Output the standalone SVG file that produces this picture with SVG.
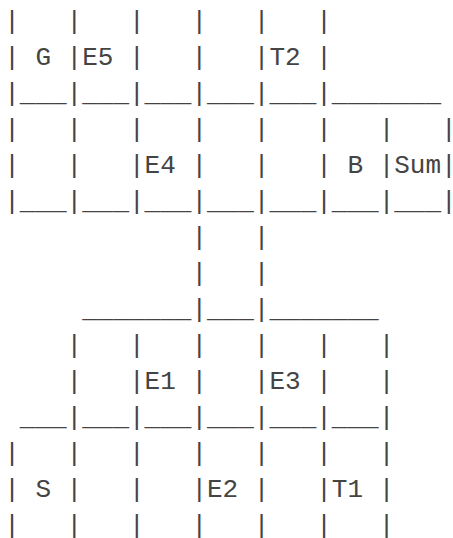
<svg xmlns="http://www.w3.org/2000/svg" width="453" height="538" viewBox="0 0 453 538">
<style>
text{font-family:"Liberation Mono","Courier New",monospace;font-size:26px;fill:#444;white-space:pre}
</style>
<rect width="453" height="538" fill="#fff"/>
<g id="ascii" xml:space="preserve">
<text x="4.2" y="29">|   |   |   |   |   |</text>
<text x="4.2" y="65">| G |E5 |   |   |T2 |</text>
<text x="4.2" y="101">|___|___|___|___|___|_______</text>
<text x="4.2" y="137">|   |   |   |   |   |   |   |</text>
<text x="4.2" y="173">|   |   |E4 |   |   | B |Sum|</text>
<text x="4.2" y="209">|___|___|___|___|___|___|___|</text>
<text x="4.2" y="245">            |   |</text>
<text x="4.2" y="281">            |   |</text>
<text x="4.2" y="317">     _______|___|_______</text>
<text x="4.2" y="353">    |   |   |   |   |   |</text>
<text x="4.2" y="389">    |   |E1 |   |E3 |   |</text>
<text x="4.2" y="425"> ___|___|___|___|___|___|</text>
<text x="4.2" y="461">|   |   |   |   |   |   |</text>
<text x="4.2" y="497">| S |   |   |E2 |   |T1 |</text>
<text x="4.2" y="533">|   |   |   |   |   |   |</text>
</g>
</svg>
